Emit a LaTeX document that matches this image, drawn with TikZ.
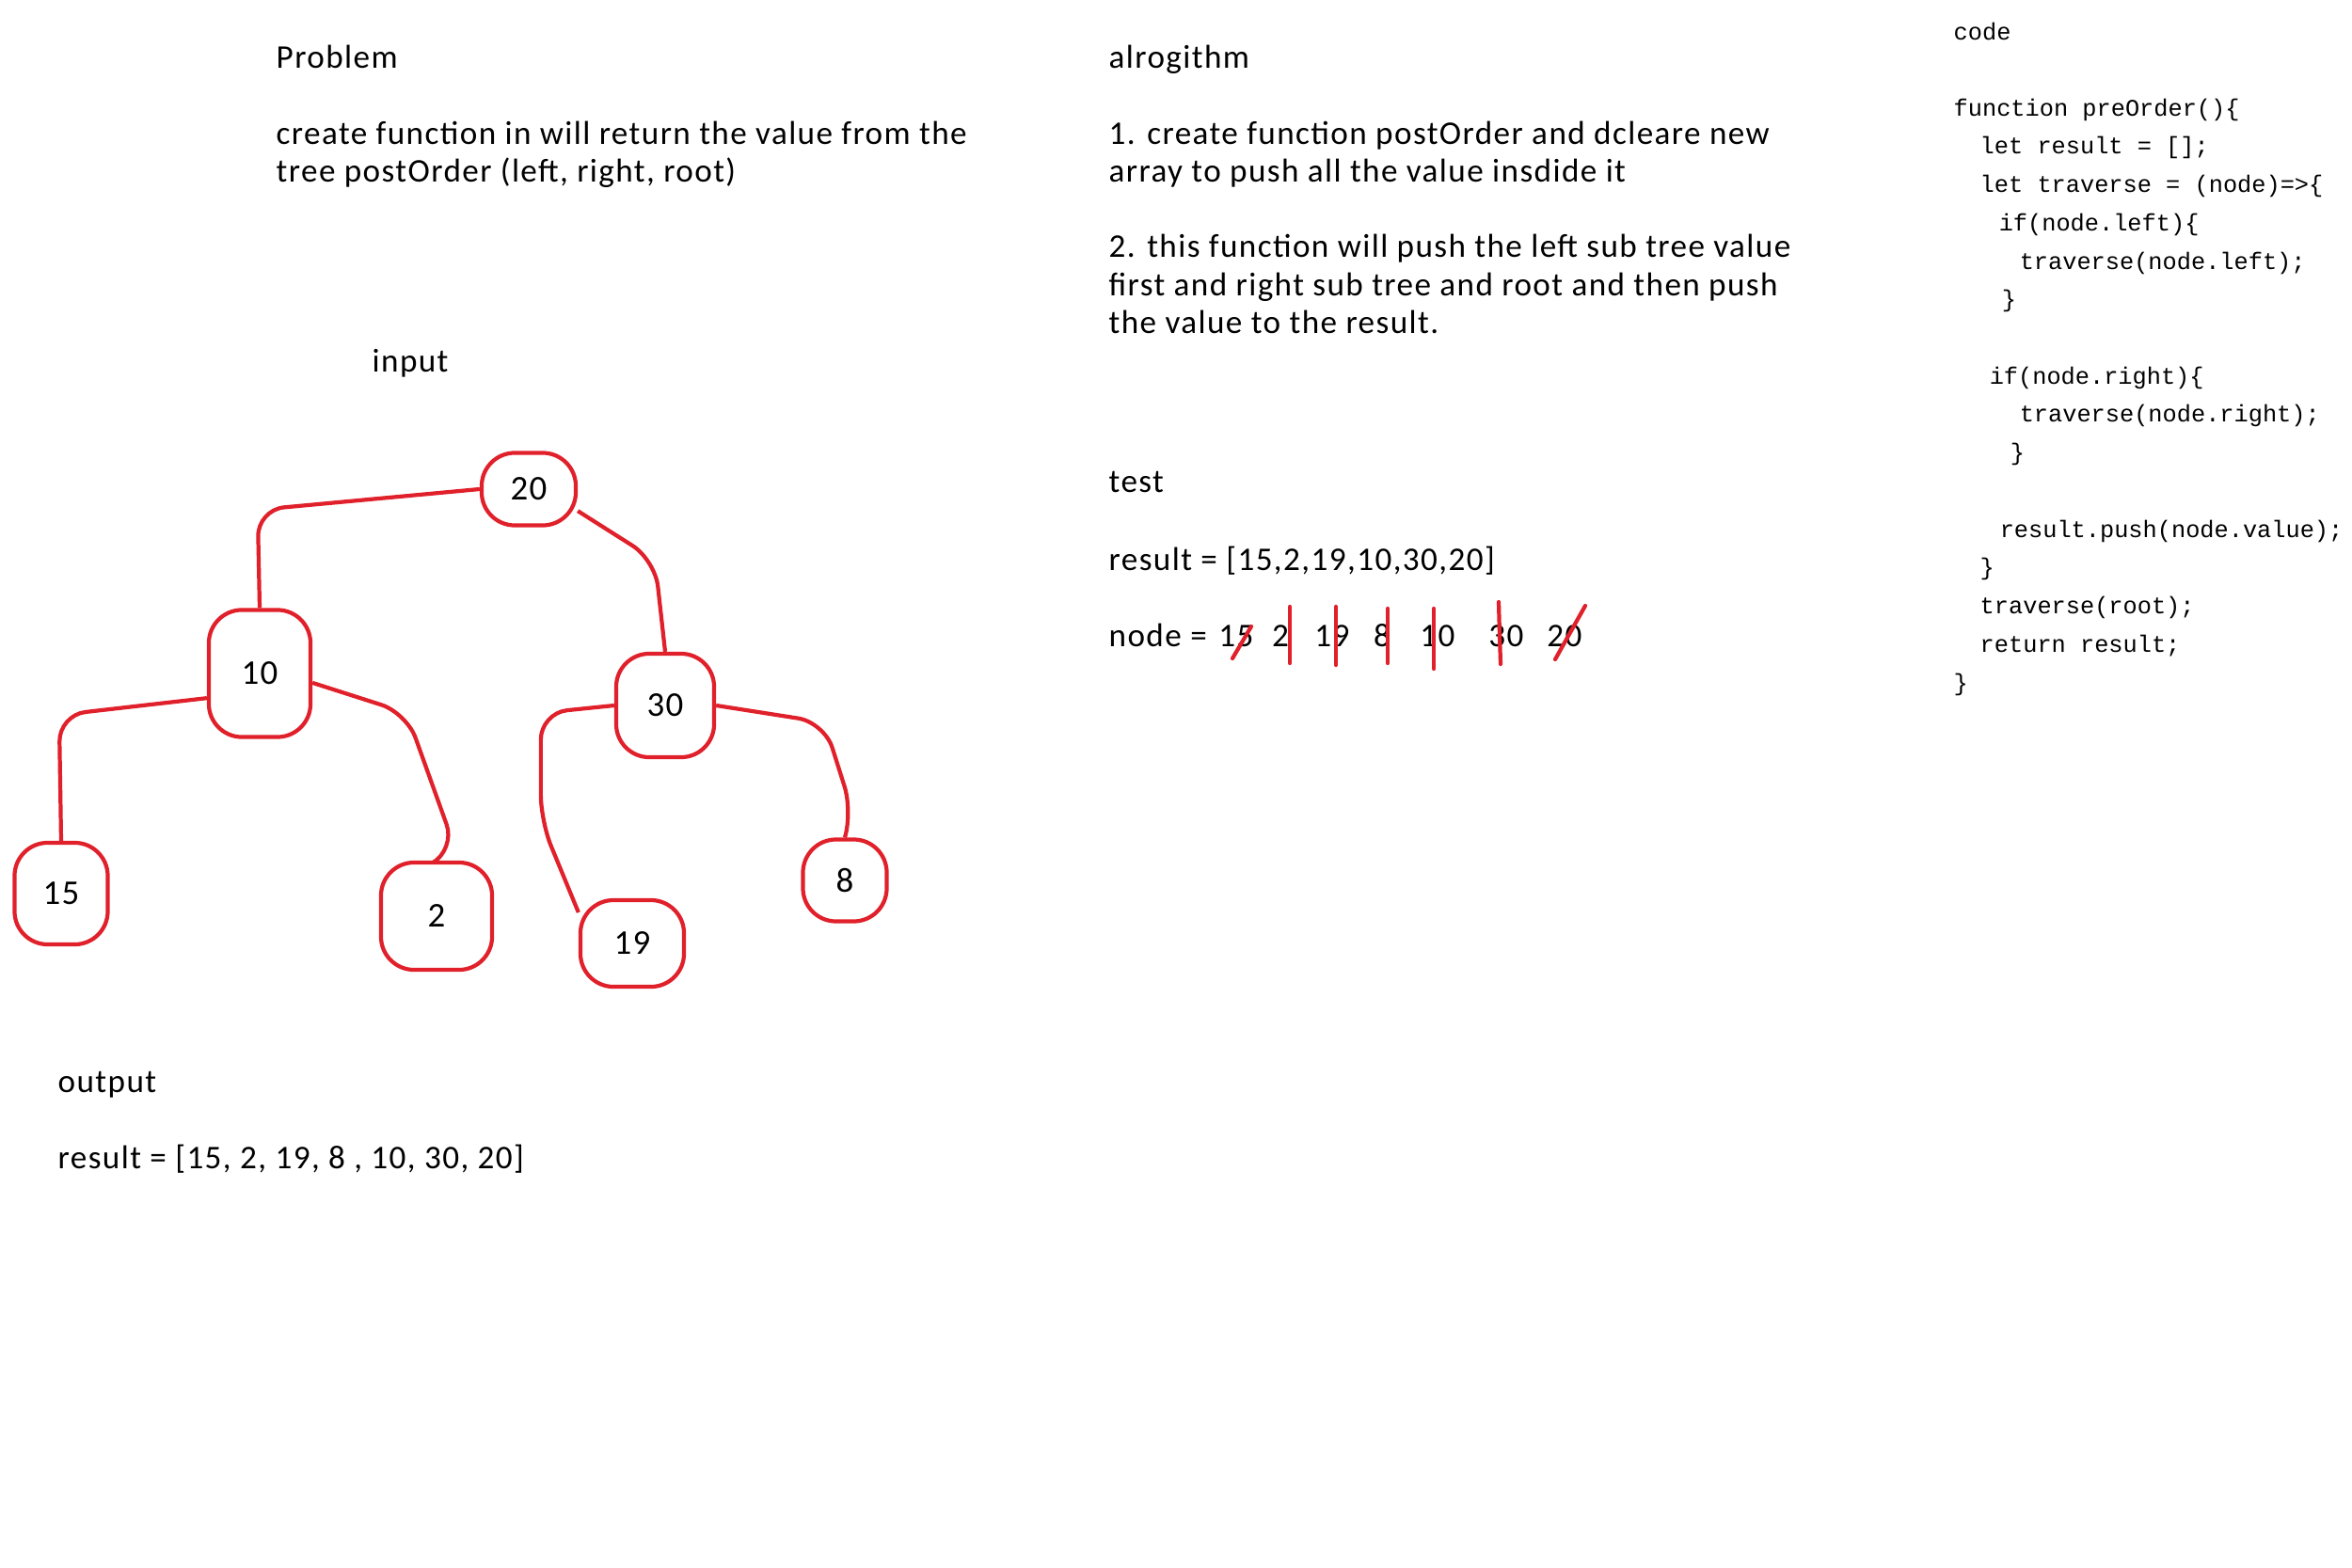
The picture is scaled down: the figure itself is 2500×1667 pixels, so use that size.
\documentclass[tikz,border=0pt]{standalone}
\usepackage{fontspec}
\setmainfont{Carlito}[LetterSpace=4]
\setmonofont{Liberation Mono}
\usetikzlibrary{positioning,calc}
\definecolor{sketchred}{HTML}{E0202A}
\tikzset{
  note/.style={anchor=base west, inner sep=0pt, align=left,
               font=\fontsize{10}{11.55}\selectfont},
  codetext/.style={anchor=base west, inner sep=0pt, align=left,
               font=\ttfamily\fontsize{7.2}{11.58}\selectfont},
  blob/.style={draw=sketchred, line width=1.2pt, rounded corners=10pt,
               inner sep=0pt, font=\fontsize{10.5}{11}\selectfont},
  branch/.style={draw=sketchred, line width=1.2pt, rounded corners=8pt},
  strike/.style={draw=sketchred, line width=1.2pt, line cap=round},
}

\begin{document}
\begin{tikzpicture}[x=0.01cm, y=-0.01cm]
\useasboundingbox (0,0) rectangle (2500,1667);

% left: problem, tree and output
% (multi-line notes sit on the baseline of their last line)
\node[note] (probtitle) at (293,73) {Problem};
\node[note] (probtext) at (293,194)
  {create function in will return the value from the\\
   tree postOrder (left, right, root)};
\node[note] (input) at (395,396) {input};

\node[blob, minimum width=1.00cm, minimum height=0.77cm] (n20) at (562,520) {20};
\node[blob, minimum width=1.08cm, minimum height=1.35cm] (n10) at (276,716) {10};
\node[blob, minimum width=1.04cm, minimum height=1.10cm] (n30) at (707,750) {30};
\node[blob, minimum width=0.99cm, minimum height=1.08cm] (n15) at (65,950) {15};
\node[blob, minimum width=1.18cm, minimum height=1.14cm] (n2) at (464,974) {2};
\node[blob, minimum width=1.10cm, minimum height=0.92cm] (n19) at (672,1003) {19};
\node[blob, minimum width=0.89cm, minimum height=0.87cm] (n8) at (898,936) {8};

\draw[branch] (n20.west) -- ++(-236,22) -- (n10.north);
\draw[branch] (n20.-24) -- ++(82,52) -- (n30.north);
\draw[branch] (n10.205) -- ++(-157,18) -- (n15.north);
\draw[branch] (n10.-10) -- ++(100,32) -- ++(52,145) -- (n2.north);
\draw[branch] (n30.west) -- ++(-78,8) -- ++(0,115) -- (n19.150);
\draw[branch] (n30.east) -- ++(115,18) -- ++(30,95) -- (n8.north);

\node[note] (outtitle) at (61,1161) {output};
\node[note] (outresult) at (61,1242) {result = [15, 2, 19, 8 , 10, 30, 20]};

% middle: algorithm and test
\node[note] (algtitle) at (1178,73) {alrogithm};
\node[note] (algone) at (1178,194)
  {1. create function postOrder and dcleare new\\
   array to push all the value insdide it};
\node[note] (algtwo) at (1178,355)
  {2. this function will push the left sub tree value\\
   first and right sub tree and root and then push\\
   the value to the result.};
\node[note] (testtitle) at (1178,523) {test};
\node[note] (testresult) at (1178,606) {result = [15,2,19,10,30,20]};
\node[note] (nodelabel) at (1178,687) {node =};
\foreach \v/\x in {15/1314, 2/1361, 19/1416, 8/1469, 10/1528, 30/1601, 20/1663}
  \node[note, anchor=base] (v\v) at (\x,687) {\v};

\draw[strike] ($(v15.base)+(-4,13)$) -- ++(20,-34);
\draw[strike] ($(v2.base)+(10,-42)$) -- ++(0,60);
\draw[strike] ($(v19.base)+(4,-42)$) -- ++(0,62);
\draw[strike] ($(v8.base)+(6,-40)$) -- ++(0,58);
\draw[strike] ($(v10.base)+(-4,-40)$) -- ++(0,64);
\draw[strike] ($(v30.base)+(-8,-47)$) -- ++(1,36) -- ++(1,30);
\draw[strike] ($(v20.base)+(-10,14)$) -- ++(32,-57);

% right: code
\node[codetext] (codetitle) at (2076,43) {code};
\node[codetext] (code) at (2076,734)
  {function preOrder()\{\\
   \hspace*{0.28cm}let result = [];\\
   \hspace*{0.28cm}let traverse = (node)=>\{\\
   \hspace*{0.48cm}if(node.left)\{\\
   \hspace*{0.70cm}traverse(node.left);\\
   \hspace*{0.51cm}\}\\
   \mbox{}\\
   \hspace*{0.38cm}if(node.right)\{\\
   \hspace*{0.70cm}traverse(node.right);\\
   \hspace*{0.60cm}\}\\
   \mbox{}\\
   \hspace*{0.49cm}result.push(node.value);\\
   \hspace*{0.28cm}\}\\
   \hspace*{0.28cm}traverse(root);\\
   \hspace*{0.28cm}return result;\\
   \}};
\end{tikzpicture}
\end{document}
